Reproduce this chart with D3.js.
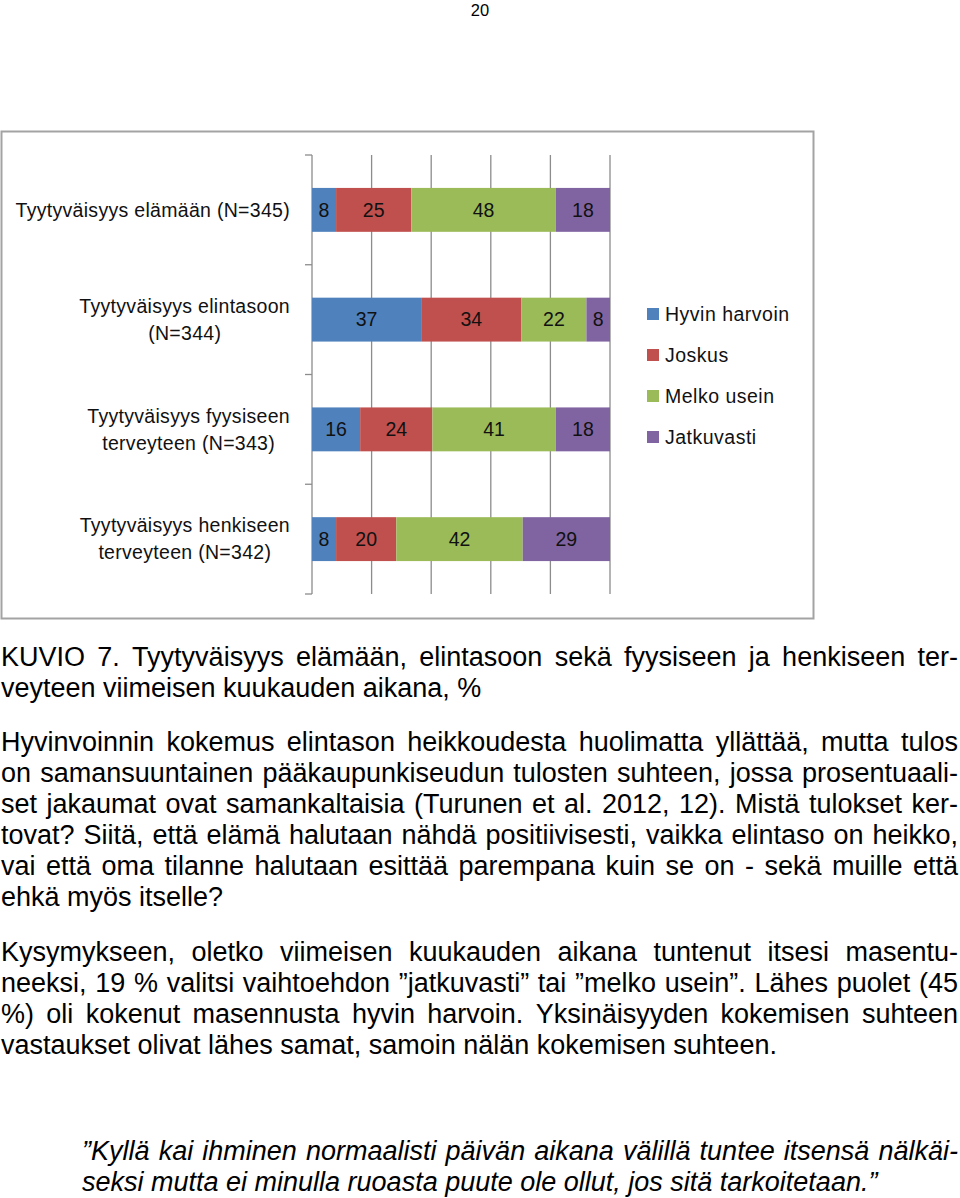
<!DOCTYPE html>
<html>
<head>
<meta charset="utf-8">
<script src="https://cdn.jsdelivr.net/npm/d3@7"></script>
<style>
  html, body { margin: 0; padding: 0; background: #fff; }
  svg { display: block; }
</style>
</head>
<body>
<svg id="page" width="960" height="1198"></svg>
<script>
// ---------------- DATA ----------------
const pageNumber = "20";
const categories = [
  "Tyytyväisyys elämään (N=345)",
  "Tyytyväisyys elintasoon (N=344)",
  "Tyytyväisyys fyysiseen terveyteen (N=343)",
  "Tyytyväisyys henkiseen terveyteen (N=342)"
];
const categoryLines = [
  ["Tyytyväisyys elämään (N=345)"],
  ["Tyytyväisyys elintasoon", "(N=344)"],
  ["Tyytyväisyys fyysiseen", "terveyteen (N=343)"],
  ["Tyytyväisyys henkiseen", "terveyteen (N=342)"]
];
const seriesNames = ["Hyvin harvoin", "Joskus", "Melko usein", "Jatkuvasti"];
const hyvinHarvoin = [8, 37, 16, 8];
const joskus       = [25, 34, 24, 20];
const melkoUsein   = [48, 22, 41, 42];
const jatkuvasti   = [18, 8, 18, 29];
const seriesColors = ["#4F81BD", "#C0504D", "#9BBB59", "#8064A2"];
const xTicks = [0, 0.2, 0.4, 0.6, 0.8, 1];

const captionLines = [
  "KUVIO 7. Tyytyväisyys elämään, elintasoon sekä fyysiseen ja henkiseen ter-",
  "veyteen viimeisen kuukauden aikana, %"
];
const paragraph1 = [
  "Hyvinvoinnin kokemus elintason heikkoudesta huolimatta yllättää, mutta tulos",
  "on samansuuntainen pääkaupunkiseudun tulosten suhteen, jossa prosentuaali-",
  "set jakaumat ovat samankaltaisia (Turunen et al. 2012, 12). Mistä tulokset ker-",
  "tovat? Siitä, että elämä halutaan nähdä positiivisesti, vaikka elintaso on heikko,",
  "vai että oma tilanne halutaan esittää parempana kuin se on - sekä muille että",
  "ehkä myös itselle?"
];
const paragraph2 = [
  "Kysymykseen, oletko viimeisen kuukauden aikana tuntenut itsesi masentu-",
  "neeksi, 19 % valitsi vaihtoehdon ”jatkuvasti” tai ”melko usein”. Lähes puolet (45",
  "%) oli kokenut masennusta hyvin harvoin. Yksinäisyyden kokemisen suhteen",
  "vastaukset olivat lähes samat, samoin nälän kokemisen suhteen."
];
const quoteLines = [
  "”Kyllä kai ihminen normaalisti päivän aikana välillä tuntee itsensä nälkäi-",
  "seksi mutta ei minulla ruoasta puute ole ollut, jos sitä tarkoitetaan.”"
];

// ---------------- DRAW ----------------
const svg = d3.select("#page");
const FONT = "'Liberation Sans', Arial, sans-serif";

// page number
svg.append("text").attr("x", 480).attr("y", 16).attr("text-anchor", "middle")
  .attr("font-family", FONT).attr("font-size", 16.5).attr("fill", "#000").text(pageNumber);

// chart frame
svg.append("rect").attr("x", 1.5).attr("y", 131.5).attr("width", 812).attr("height", 487)
  .attr("fill", "#fff").attr("stroke", "#a3a3a3").attr("stroke-width", 2);

const table = categories.map((c, i) => ({
  cat: c,
  "Hyvin harvoin": hyvinHarvoin[i],
  "Joskus": joskus[i],
  "Melko usein": melkoUsein[i],
  "Jatkuvasti": jatkuvasti[i]
}));
const stack = d3.stack().keys(seriesNames).offset(d3.stackOffsetExpand);
const stacked = stack(table);

const x = d3.scaleLinear().domain([0, 1]).range([312, 610]);
const y = d3.scaleBand().domain(categories).range([155, 594]).paddingInner(0.6).paddingOuter(0.3);
const color = d3.scaleOrdinal().domain(seriesNames).range(seriesColors);

const chart = svg.append("g");

// gridlines
chart.append("g").selectAll("line").data(xTicks.slice(1)).join("line")
  .attr("x1", d => x(d)).attr("x2", d => x(d))
  .attr("y1", 155).attr("y2", 594)
  .attr("stroke", "#8c8c8c").attr("stroke-width", 1.3);

// y axis line & tick marks at band boundaries
chart.append("line").attr("x1", x(0)).attr("x2", x(0)).attr("y1", 155).attr("y2", 594)
  .attr("stroke", "#8c8c8c").attr("stroke-width", 1.3);
const boundaries = d3.range(categories.length + 1).map(i => 155 + i * (439 / categories.length));
chart.append("g").selectAll("line").data(boundaries).join("line")
  .attr("x1", x(0) - 7).attr("x2", x(0)).attr("y1", d => d).attr("y2", d => d)
  .attr("stroke", "#8c8c8c").attr("stroke-width", 1.3);

// bars
const layers = chart.append("g").selectAll("g").data(stacked).join("g")
  .attr("fill", d => color(d.key));
layers.selectAll("rect").data(d => d.map(v => ({ key: d.key, v }))).join("rect")
  .attr("x", d => x(d.v[0]))
  .attr("y", d => y(d.v.data.cat))
  .attr("width", d => x(d.v[1]) - x(d.v[0]))
  .attr("height", y.bandwidth());

// data labels
layers.selectAll("text").data(d => d.map(v => ({ key: d.key, v }))).join("text")
  .attr("x", d => (x(d.v[0]) + x(d.v[1])) / 2)
  .attr("y", d => y(d.v.data.cat) + y.bandwidth() / 2)
  .attr("dy", "0.35em")
  .attr("text-anchor", "middle")
  .attr("font-family", FONT).attr("font-size", 19.5).attr("fill", "#111")
  .text(d => d.v.data[d.key]);

// category labels (centered lines inside a right-aligned block)
const catG = chart.append("g").attr("font-family", FONT).attr("font-size", 19.5).attr("fill", "#111")
  .attr("letter-spacing", "0.3px");
categories.forEach((c, i) => {
  const lines = categoryLines[i];
  const cy = y(c) + y.bandwidth() / 2;
  const lh = 27;
  const texts = lines.map((ln, j) => catG.append("text")
    .attr("y", cy + (j - (lines.length - 1) / 2) * lh)
    .attr("dy", "0.35em").attr("text-anchor", "middle").text(ln));
  const maxW = d3.max(texts, t => t.node().getComputedTextLength());
  texts.forEach(t => t.attr("x", 290 - maxW / 2));
});

// legend
const legend = svg.append("g").attr("font-family", FONT).attr("font-size", 19.5).attr("fill", "#111")
  .attr("letter-spacing", "0.5px");
const legendY = d3.scalePoint().domain(seriesNames).range([314, 437]);
seriesNames.forEach(s => {
  legend.append("rect").attr("x", 647).attr("y", legendY(s) - 6).attr("width", 12).attr("height", 12)
    .attr("fill", color(s));
  legend.append("text").attr("x", 665).attr("y", legendY(s)).attr("dy", "0.35em").text(s);
});

// ---------------- BODY TEXT ----------------
const measurer = svg.append("text").attr("font-family", FONT).attr("font-size", 27).attr("visibility", "hidden");
function drawLine(txt, x0, x1, yBase, justify, italic) {
  const words = txt.split(" ");
  measurer.attr("font-style", italic ? "italic" : "normal");
  const widths = words.map(w => { measurer.text(w); return measurer.node().getComputedTextLength(); });
  const t = svg.append("text").attr("font-family", FONT).attr("font-size", 27).attr("fill", "#000")
    .attr("font-style", italic ? "italic" : "normal").attr("y", yBase);
  if (justify && words.length > 1) {
    const gap = (x1 - x0 - d3.sum(widths)) / (words.length - 1);
    let cx = x0;
    words.forEach((w, i) => {
      t.append("tspan").attr("x", cx).text(w);
      cx += widths[i] + gap;
    });
  } else {
    t.attr("x", x0).text(txt);
  }
}
function drawPara(lines, x0, x1, yStart, italic) {
  lines.forEach((ln, i) => drawLine(ln, x0, x1, yStart + i * 31, i < lines.length - 1, italic));
}
drawPara(captionLines, 1, 958, 666, false);
drawPara(paragraph1, 1, 958, 751, false);
drawPara(paragraph2, 1, 958, 961, false);
drawPara(quoteLines, 82, 958, 1160, true);
</script>
</body>
</html>
